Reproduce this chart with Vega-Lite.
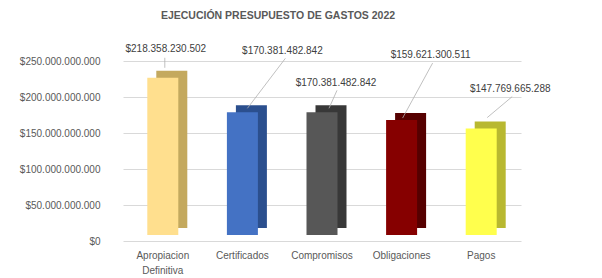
{
  "$schema": "https://vega.github.io/schema/vega-lite/v6.json",
  "autosize": {"type": "none"},
  "width": 398,
  "height": 180,
  "padding": {"left": 123, "top": 61, "right": 81, "bottom": 37},
  "background": "white",
  "config": {
    "locale": {"number": {"decimal": ",", "thousands": ".", "grouping": [3], "currency": ["$", ""]}},
    "view": {"stroke": null},
    "font": "Liberation Sans"
  },
  "title": {
    "text": "EJECUCIÓN PRESUPUESTO DE GASTOS 2022",
    "font": "Liberation Sans",
    "fontSize": 10.5,
    "fontWeight": "bold",
    "color": "#595959",
    "anchor": "middle",
    "baseline": "middle",
    "dx": -44,
    "offset": 17
  },
  "data": {
    "values": [
      {"cat": "Apropiacion Definitiva", "value": 218358230502},
      {"cat": "Certificados", "value": 170381482842},
      {"cat": "Compromisos", "value": 170381482842},
      {"cat": "Obligaciones", "value": 159621300511},
      {"cat": "Pagos", "value": 147769665288}
    ]
  },
  "encoding": {
    "x": {
      "field": "cat", "type": "nominal", "sort": null,
      "scale": {"paddingInner": 0, "paddingOuter": 0},
      "axis": {
        "title": null, "domain": false, "ticks": false, "labelAngle": 0,
        "labelPadding": 9, "labelFontSize": 10, "labelColor": "#595959",
        "labelLineHeight": 15, "labelBaseline": "top",
        "labelExpr": "datum.label == 'Apropiacion Definitiva' ? ['Apropiacion', 'Definitiva'] : datum.label"
      }
    },
    "y": {
      "field": "value", "type": "quantitative",
      "scale": {"domain": [0, 250000000000], "nice": false},
      "axis": {
        "title": null, "domain": false, "ticks": false, "labelOverlap": false,
        "values": [0, 50000000000, 100000000000, 150000000000, 200000000000, 250000000000],
        "format": "$,.0f", "labelPadding": 23, "labelFontSize": 10, "labelColor": "#595959",
        "gridColor": "#D9D9D9", "gridWidth": 1
      }
    }
  },
  "layer": [
    {
      "mark": {"type": "bar", "size": 31, "xOffset": 9, "yOffset": -13, "y2Offset": -13},
      "encoding": {
        "color": {
          "field": "cat", "type": "nominal", "legend": null,
          "scale": {"domain": ["Apropiacion Definitiva", "Certificados", "Compromisos", "Obligaciones", "Pagos"],
                    "range": ["#C4A95E", "#2B4F8E", "#383838", "#560000", "#B8B830"]}
        }
      }
    },
    {
      "mark": {"type": "bar", "size": 31, "yOffset": -6, "y2Offset": -6},
      "encoding": {
        "color": {
          "field": "cat", "type": "nominal", "legend": null,
          "scale": {"domain": ["Apropiacion Definitiva", "Certificados", "Compromisos", "Obligaciones", "Pagos"],
                    "range": ["#FFDF8E", "#4472C4", "#575757", "#860000", "#FFFF4D"]}
        }
      }
    },
    {
      "transform": [{"filter": "datum.cat == 'Apropiacion Definitiva'"}],
      "mark": {"type": "rule", "color": "#B0B0B0", "strokeWidth": 0.8, "xOffset": 2, "x2Offset": 2, "yOffset": -16, "y2Offset": -26},
      "encoding": {"x2": {"field": "cat"}, "y2": {"field": "value"}}
    },
    {
      "transform": [{"filter": "datum.cat == 'Certificados'"}],
      "mark": {"type": "rule", "color": "#B0B0B0", "strokeWidth": 0.8, "xOffset": 5, "x2Offset": 43, "yOffset": -10, "y2Offset": -60},
      "encoding": {"x2": {"field": "cat"}, "y2": {"field": "value"}}
    },
    {
      "transform": [{"filter": "datum.cat == 'Compromisos'"}],
      "mark": {"type": "rule", "color": "#B0B0B0", "strokeWidth": 0.8, "xOffset": 7, "x2Offset": 15, "yOffset": -10, "y2Offset": -28},
      "encoding": {"x2": {"field": "cat"}, "y2": {"field": "value"}}
    },
    {
      "transform": [{"filter": "datum.cat == 'Obligaciones'"}],
      "mark": {"type": "rule", "color": "#B0B0B0", "strokeWidth": 0.8, "xOffset": 1, "x2Offset": 31, "yOffset": -8, "y2Offset": -63},
      "encoding": {"x2": {"field": "cat"}, "y2": {"field": "value"}}
    },
    {
      "transform": [{"filter": "datum.cat == 'Pagos'"}],
      "mark": {"type": "rule", "color": "#B0B0B0", "strokeWidth": 0.8, "xOffset": 6, "x2Offset": 31, "yOffset": -17, "y2Offset": -38},
      "encoding": {"x2": {"field": "cat"}, "y2": {"field": "value"}}
    },
    {
      "transform": [{"filter": "datum.cat == 'Apropiacion Definitiva'"}],
      "mark": {"type": "text", "fontSize": 10, "color": "#404040", "dx": 3, "dy": -35},
      "encoding": {"text": {"field": "value", "type": "quantitative", "format": "$,.0f"}}
    },
    {
      "transform": [{"filter": "datum.cat == 'Certificados'"}],
      "mark": {"type": "text", "fontSize": 10, "color": "#404040", "dx": 40, "dy": -67},
      "encoding": {"text": {"field": "value", "type": "quantitative", "format": "$,.0f"}}
    },
    {
      "transform": [{"filter": "datum.cat == 'Compromisos'"}],
      "mark": {"type": "text", "fontSize": 10, "color": "#404040", "dx": 14, "dy": -35},
      "encoding": {"text": {"field": "value", "type": "quantitative", "format": "$,.0f"}}
    },
    {
      "transform": [{"filter": "datum.cat == 'Obligaciones'"}],
      "mark": {"type": "text", "fontSize": 10, "color": "#404040", "dx": 29, "dy": -71},
      "encoding": {"text": {"field": "value", "type": "quantitative", "format": "$,.0f"}}
    },
    {
      "transform": [{"filter": "datum.cat == 'Pagos'"}],
      "mark": {"type": "text", "fontSize": 10, "color": "#404040", "dx": 29, "dy": -46},
      "encoding": {"text": {"field": "value", "type": "quantitative", "format": "$,.0f"}}
    }
  ],
  "resolve": {"scale": {"color": "independent"}}
}
